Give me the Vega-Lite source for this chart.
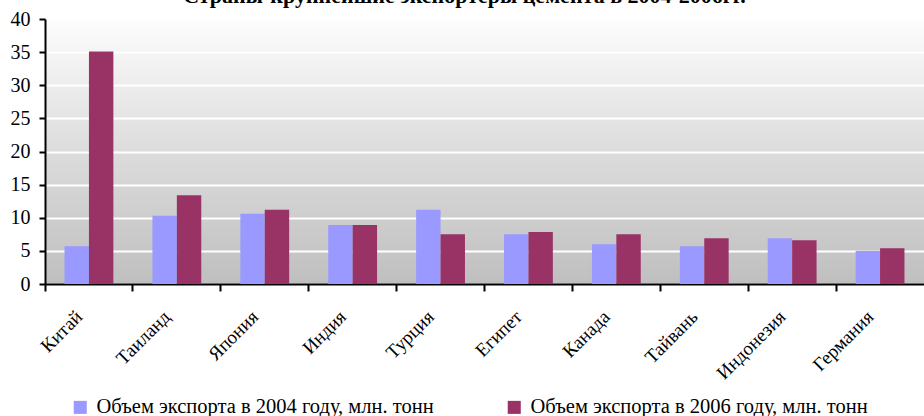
{
  "$schema": "https://vega.github.io/schema/vega-lite/v6.json",
  "width": 879,
  "height": 265,
  "autosize": {"type": "none"},
  "padding": {"left": 45, "top": 19, "right": 0, "bottom": 132},
  "background": "#ffffff",
  "title": {
    "text": "Страны-крупнейшие экспортеры цемента в 2004-2006гг.",
    "font": "Liberation Serif",
    "fontSize": 22,
    "fontWeight": "bold",
    "color": "#000000",
    "frame": "group",
    "anchor": "middle",
    "offset": 1,
    "dx": -20
  },
  "config": {
    "view": {
      "stroke": null,
      "fill": {
        "gradient": "linear",
        "x1": 0, "y1": 0, "x2": 0, "y2": 1,
        "stops": [
          {"offset": 0, "color": "#fdfdfd"},
          {"offset": 0.5, "color": "#dcdcdc"},
          {"offset": 1, "color": "#bfbfbf"}
        ]
      }
    },
    "font": "Liberation Serif"
  },
  "data": {
    "values": [
      {"country": "Китай", "series": "Объем экспорта в 2004 году, млн. тонн", "value": 5.7},
      {"country": "Китай", "series": "Объем экспорта в 2006 году, млн. тонн", "value": 35.1},
      {"country": "Таиланд", "series": "Объем экспорта в 2004 году, млн. тонн", "value": 10.3},
      {"country": "Таиланд", "series": "Объем экспорта в 2006 году, млн. тонн", "value": 13.4},
      {"country": "Япония", "series": "Объем экспорта в 2004 году, млн. тонн", "value": 10.6},
      {"country": "Япония", "series": "Объем экспорта в 2006 году, млн. тонн", "value": 11.2},
      {"country": "Индия", "series": "Объем экспорта в 2004 году, млн. тонн", "value": 8.9},
      {"country": "Индия", "series": "Объем экспорта в 2006 году, млн. тонн", "value": 8.9},
      {"country": "Турция", "series": "Объем экспорта в 2004 году, млн. тонн", "value": 11.2},
      {"country": "Турция", "series": "Объем экспорта в 2006 году, млн. тонн", "value": 7.5},
      {"country": "Египет", "series": "Объем экспорта в 2004 году, млн. тонн", "value": 7.5},
      {"country": "Египет", "series": "Объем экспорта в 2006 году, млн. тонн", "value": 7.85},
      {"country": "Канада", "series": "Объем экспорта в 2004 году, млн. тонн", "value": 6.0},
      {"country": "Канада", "series": "Объем экспорта в 2006 году, млн. тонн", "value": 7.5},
      {"country": "Тайвань", "series": "Объем экспорта в 2004 году, млн. тонн", "value": 5.7},
      {"country": "Тайвань", "series": "Объем экспорта в 2006 году, млн. тонн", "value": 6.9},
      {"country": "Индонезия", "series": "Объем экспорта в 2004 году, млн. тонн", "value": 6.9},
      {"country": "Индонезия", "series": "Объем экспорта в 2006 году, млн. тонн", "value": 6.6},
      {"country": "Германия", "series": "Объем экспорта в 2004 году, млн. тонн", "value": 5.0},
      {"country": "Германия", "series": "Объем экспорта в 2006 году, млн. тонн", "value": 5.4}
    ]
  },
  "mark": {"type": "bar"},
  "encoding": {
    "x": {
      "field": "country",
      "type": "nominal",
      "sort": null,
      "scale": {"paddingInner": 0, "paddingOuter": 0},
      "axis": {
        "title": null,
        "bandPosition": 0,
        "labelAngle": -45,
        "labelFont": "Liberation Serif",
        "labelFontSize": 19,
        "labelColor": "#000000",
        "labelPadding": 16,
        "labelOffset": -16,
        "labelBound": false,
        "labelOverlap": false,
        "domainColor": "#000000",
        "domainWidth": 2,
        "tickColor": "#000000",
        "tickWidth": 2,
        "tickSize": 7,
        "grid": false
      }
    },
    "xOffset": {
      "field": "series",
      "type": "nominal",
      "scale": {"paddingInner": 0, "paddingOuter": 0.8}
    },
    "y": {
      "field": "value",
      "type": "quantitative",
      "scale": {"domain": [0, 40], "nice": false},
      "axis": {
        "title": null,
        "values": [0, 5, 10, 15, 20, 25, 30, 35, 40],
        "labelFont": "Liberation Serif",
        "labelFontSize": 20,
        "labelColor": "#000000",
        "labelPadding": 9,
        "domainColor": "#000000",
        "domainWidth": 2,
        "tickColor": "#000000",
        "tickWidth": 2,
        "tickSize": 6,
        "gridColor": "#ffffff",
        "gridWidth": 2,
        "gridOpacity": 1
      }
    },
    "color": {
      "field": "series",
      "type": "nominal",
      "scale": {"range": ["#9999ff", "#993366"]},
      "legend": {
        "title": null,
        "orient": "none",
        "direction": "horizontal",
        "legendX": 25,
        "legendY": 378,
        "symbolType": "square",
        "symbolSize": 170,
        "symbolStrokeWidth": 0,
        "symbolOpacity": 1,
        "labelFont": "Liberation Serif",
        "labelFontSize": 20.5,
        "labelColor": "#000000",
        "labelLimit": 500,
        "labelOffset": 6,
        "columnPadding": 70
      }
    }
  }
}
